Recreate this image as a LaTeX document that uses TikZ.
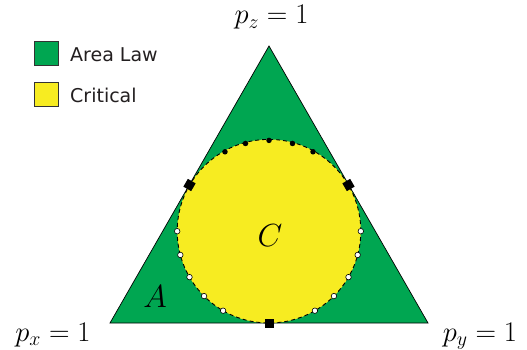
\RequirePackage{fix-cm}
\documentclass[tikz,border=0pt]{standalone}
\usepackage{fontspec}
\newfontfamily\legendfont{DejaVu Sans}
\definecolor{arealaw}{RGB}{0,166,81}
\definecolor{critical}{RGB}{247,236,33}
\definecolor{legendtext}{RGB}{35,31,32}
\begin{document}
\begin{tikzpicture}[x=1pt,y=-1pt,
  sq/.style={rectangle, fill=black, minimum size=9pt, inner sep=0pt},
  bdot/.style={circle, fill=black, minimum size=5.5pt, inner sep=0pt},
  wdot/.style={circle, fill=white, draw=black, line width=0.6pt, minimum size=5.5pt, inner sep=0pt},
  lbox/.style={rectangle, draw=black!80, line width=0.8pt, minimum size=24pt, inner sep=0pt},
  ltext/.style={font=\legendfont\fontsize{19}{22}\selectfont, text=legendtext, anchor=base west, inner sep=0pt},
  mlabel/.style={font=\fontsize{28.5}{32}\selectfont, inner sep=0pt, anchor=base},
  rlabel/.style={font=\fontsize{32}{36}\selectfont, inner sep=0pt}
]
\useasboundingbox (0,0) rectangle (527,350);
\coordinate (L) at (110,323);
\coordinate (R) at (428,323);
\coordinate (T) at (269,46);
\coordinate (O) at (269,231.2);
\filldraw[fill=arealaw, draw=black, line width=0.7pt] (L) -- (R) -- (T) -- cycle;
\fill[critical] (O) circle (91.8pt);
\draw[dash pattern=on 4pt off 3pt, line width=0.9pt] (O) circle (91.8pt);
\foreach \a in {61,75,90,105,119}
  \node[bdot] (b\a) at ([shift={(\a:90.8pt)}]O) {};
\foreach \a in {180,195,210,225,240,300,315,330,345,360}
  \node[wdot] (w\a) at ([shift={(\a:91.8pt)}]O) {};
\node[sq, rotate=60] (sqL) at (189.5,185) {};
\node[sq, rotate=-60] (sqR) at (348.5,185) {};
\node[sq] (sqB) at (269,323) {};
\node[rlabel] (C) at (270,236) {$C$};
\node[rlabel] (A) at (155,297) {$A$};
\node[mlabel] (pz) at (271.5,24) {$p_z=1$};
\node[mlabel] (px) at (53,341) {$p_x=1$};
\node[mlabel] (py) at (480,341) {$p_y=1$};
\node[lbox, fill=arealaw] (g) at (46.5,53.7) {};
\node[lbox, fill=critical] (y) at (46.5,94.7) {};
\node[ltext] (gt) at (70,61.5) {Area Law};
\node[ltext] (yt) at (70,102.5) {Critical};
\end{tikzpicture}
\end{document}
